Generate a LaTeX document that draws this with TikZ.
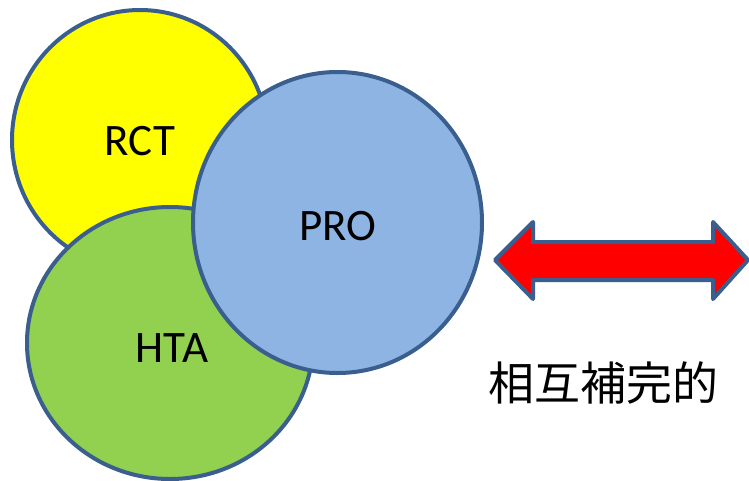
\documentclass[tikz,border=0pt]{standalone}
\usepackage{fontspec}
\setmainfont{Carlito}
\newfontfamily\cjkfont{Noto Sans CJK JP}
\usetikzlibrary{shapes.geometric}
\definecolor{edgeblue}{HTML}{3A5F8E}
\definecolor{rctyellow}{HTML}{FFFF00}
\definecolor{htagreen}{HTML}{92D050}
\definecolor{problue}{HTML}{8EB4E3}
\tikzset{
  bubble/.style={ellipse, draw=edgeblue, line width=4pt, inner sep=0pt},
  lbl/.style={font=\fontsize{45}{54}\selectfont, inner sep=0pt}
}
\begin{document}
\begin{tikzpicture}[x=1pt,y=-1pt]
\useasboundingbox[fill=white] (0,0) rectangle (749,480);
\node[bubble, fill=rctyellow, minimum width=256pt, minimum height=260pt] (rct) at (140,140) {};
\node[bubble, fill=htagreen, minimum width=286pt, minimum height=272pt] (hta) at (170,343) {};
\node[bubble, fill=problue, minimum width=289pt, minimum height=301pt] (pro) at (337.5,222.5) {};
\node[lbl] (rcttext) at (140,141) {RCT};
\node[lbl] (protext) at (338,226) {PRO};
\node[lbl] (htatext) at (172,348) {HTA};
\draw[draw=edgeblue, fill=red, line width=4pt, line join=round]
  (495,260) -- (533,222) -- (533,242) -- (713,242) -- (713,222) -- (748,260)
  -- (713,299) -- (713,280) -- (533,280) -- (533,299) -- cycle;
\node[inner sep=0pt, font=\cjkfont\fontsize{46}{54}\selectfont] (comp) at (603,383) {相互補完的};
\end{tikzpicture}
\end{document}
